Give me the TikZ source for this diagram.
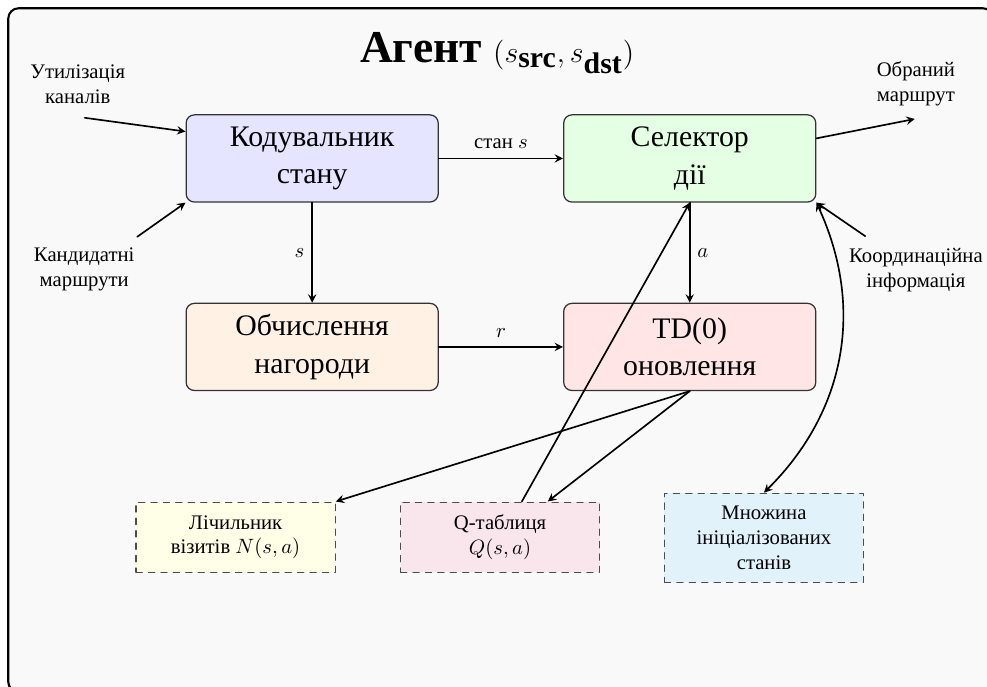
\documentclass[tikz,border=0pt]{standalone}
\usepackage{fontspec}
\setmainfont{Liberation Serif}
\usetikzlibrary{calc}
\definecolor{initfill}{RGB}{225,242,251}
\begin{document}
\begin{tikzpicture}[line join = round, line cap = round,>=stealth,thick,
	khoi/.style={draw=black!80,line width=0.6pt,rounded corners=4pt,minimum width=4.28cm,minimum height=1.48cm,align=center,font=\Large},
	kho/.style={draw=black!70,line width=0.6pt,dashed,minimum width=3.38cm,align=center},
	nhan/.style={align=center}]
	%Vẽ khung
	\useasboundingbox (0,0) rectangle (16.757,-11.647);
	\draw[fill=gray!5,line width=1pt,rounded corners=5pt] (0.14,-0.14) rectangle (16.86,-11.75);
	\node (tieude) at (8.44,-0.90) {\fontsize{22}{26}\selectfont\textbf{Агент} \Large$(s_{\textbf{src}}, s_{\textbf{dst}})$};
	%Vẽ các khối chính
	\node[khoi,fill=blue!10] (enc) at (5.30,-2.69) {Кодувальник\\стану};
	\node[khoi,fill=green!10] (sel) at (11.71,-2.69) {Селектор\\дії};
	\node[khoi,fill=orange!10] (rew) at (5.30,-5.89) {Обчислення\\нагороди};
	\node[khoi,fill=red!10] (td) at (11.71,-5.89) {TD(0)\\оновлення};
	%Vẽ các khối lưu trữ
	\node[kho,fill=yellow!10,minimum height=1.19cm] (cnt) at (4.00,-9.12) {Лічильник\\візитів $N(s,a)$};
	\node[kho,fill=purple!10,minimum height=1.19cm] (qtab) at (8.49,-9.12) {Q-таблиця\\$Q(s,a)$};
	\node[kho,fill=initfill,minimum height=1.51cm] (init) at (12.97,-9.13) {Множина\\ініціалізованих\\станів};
	%Vẽ các nhãn bên ngoài
	\node[nhan] (util) at (1.32,-1.43) {Утилізація\\каналів};
	\node[nhan] (cand) at (1.43,-4.58) {Кандидатні\\маршрути};
	\node[nhan] (route) at (15.55,-1.43) {Обраний\\маршрут};
	\node[nhan] (coord) at (15.55,-4.58) {Координаційна\\інформація};
	\coordinate (utilout) at (1.44,-2.0);
	\coordinate (candout) at (2.33,-4.02);
	\coordinate (routein) at (15.53,-2.02);
	\coordinate (coordout) at (14.69,-4.01);
	%Vẽ các mũi tên
	\draw[->] (enc) -- node[above=1pt]{стан $s$} (sel);
	\draw[->] (enc) -- node[left]{$s$} (rew);
	\draw[->] (rew) -- node[above=1pt]{$r$} (td);
	\draw[->] (sel) -- node[right]{$a$} (td);
	\draw[->] (td.south) -- (cnt.north east);
	\draw[->] (td.south) -- ([xshift=0.81cm]qtab.north);
	\draw[->] ([xshift=0.37cm]qtab.north) -- (sel.south);
	\draw[<->] (init.north) to[bend right=35] (sel.south east);
	\draw[->] (utilout) -- (enc.168);
	\draw[->] (candout) -- (enc.south west);
	\draw[->] (sel.9) -- (routein);
	\draw[->] (coordout) -- (sel.south east);
\end{tikzpicture}
\end{document}
